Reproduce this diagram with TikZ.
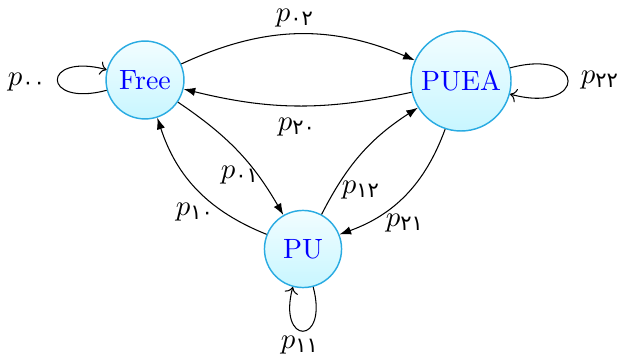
\documentclass[tikz,border=0pt]{standalone}
\usepackage{fontspec}
\newfontfamily\fadig[Script=Arabic]{DejaVu Sans}
\usetikzlibrary{arrows.meta}
\definecolor{stateborder}{RGB}{41,171,226}
\definecolor{statetop}{RGB}{242,253,255}
\definecolor{statebot}{RGB}{200,246,255}
\newcommand{\plab}[1]{$p_{\hbox{\fontsize{8}{9}\selectfont\fadig #1}}$}
\tikzset{
  state/.style={circle, draw=stateborder, line width=0.55pt, top color=statetop, bottom color=statebot, text=blue, inner sep=0pt, font=\fontsize{10.6}{12}\selectfont},
  trans/.style={-{Latex[length=4.4pt,width=3.2pt]}, black},
  selfloop/.style={->, black},
  lab/.style={inner sep=0.5pt, font=\fontsize{11}{13}\selectfont},
}
\begin{document}
\begin{tikzpicture}[x=0.38pt,y=0.38pt]
\useasboundingbox (0,0) rectangle (619,-358);
\node[state, minimum size=29.6pt] (free) at (145,-80) {Free};
\node[state, minimum size=38pt] (puea) at (461,-81) {PUEA};
\node[state, minimum size=29.3pt] (pu) at (303,-249) {PU};

\draw[trans] (free) to[bend left=24] (puea);
\draw[trans] (puea) to[bend left=13] (free);
\draw[trans] (free) to[bend left=13] (pu);
\draw[trans] (pu) to[bend left=25] (free);
\draw[trans] (pu) to[bend left=15] (puea);
\draw[trans] (puea) to[bend left=25] (pu);

\draw[selfloop] (free.195) .. controls +(195:68) and +(165:68) .. (free.165);
\draw[selfloop] (puea.15) .. controls +(15:80) and +(-15:80) .. (puea.-15);
\draw[selfloop] (pu.285) .. controls +(285:61) and +(255:61) .. (pu.255);

\node[lab] (l00) at (27,-82) {\plab{۰۰}};
\node[lab] (l02) at (295,-18) {\plab{۰۲}};
\node[lab] (l20) at (297,-127) {\plab{۲۰}};
\node[lab] (l01) at (240,-175) {\plab{۰۱}};
\node[lab] (l10) at (195,-212) {\plab{۱۰}};
\node[lab] (l12) at (361,-190) {\plab{۱۲}};
\node[lab] (l21) at (405,-223) {\plab{۲۱}};
\node[lab] (l22) at (600,-80) {\plab{۲۲}};
\node[lab] (l11) at (300,-345) {\plab{۱۱}};
\end{tikzpicture}
\end{document}
